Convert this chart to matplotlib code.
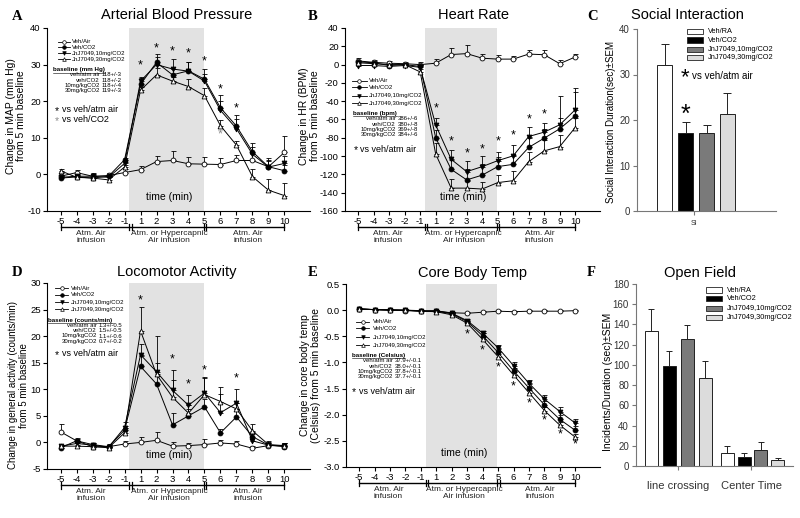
import matplotlib
matplotlib.use("Agg")
import matplotlib.pyplot as plt
import numpy as np
from matplotlib.lines import Line2D
from matplotlib.patches import Rectangle
from matplotlib.ticker import FormatStrFormatter

W, H = 800, 518

TIME_LABELS = ["-5", "-4", "-3", "-2", "-1", "1", "2", "3", "4", "5", "6", "7", "8", "9", "10"]
SERIES = ["Veh/Air", "Veh/CO2", "JnJ7049,10mg/CO2", "JnJ7049,30mg/CO2"]
BAR_SERIES = ["Veh/RA", "Veh/CO2", "JnJ7049,10mg/CO2", "JnJ7049,30mg/CO2"]
BASE_NAMES = ["veh/atm air", "veh/CO2", "10mg/kgCO2", "30mg/kgCO2"]

# A - arterial blood pressure (mm Hg change)
map_mean = [
    [-0.5, 0.5, -0.5, -0.3, 0.5, 1.3, 3.5, 3.8, 2.9, 2.8, 2.7, 3.8, 3.8, 2.1, 6.0],
    [-1.0, -0.7, -1.0, -0.5, 4.0, 24.6, 30.6, 27.2, 28.3, 26.0, 18.2, 13.2, 6.2, 2.1, 1.0],
    [-0.8, -0.5, -0.5, -0.8, 3.0, 25.5, 30.0, 28.8, 28.2, 25.5, 17.5, 12.5, 5.5, 2.0, 3.0],
    [1.0, -0.8, -1.0, -1.5, 2.0, 23.0, 27.2, 25.5, 24.0, 21.5, 13.3, 8.0, -0.6, -4.3, -5.8],
]
map_sem = [
    [1.0, 0.8, 0.8, 0.8, 1.0, 1.0, 1.5, 2.5, 1.8, 2.0, 1.8, 1.5, 2.0, 2.5, 4.5],
    [0.5, 0.5, 0.8, 0.8, 0.5, 1.8, 2.3, 1.5, 2.5, 2.7, 3.5, 3.0, 2.5, 1.5, 1.5],
    [0.5, 0.5, 0.5, 0.5, 0.5, 1.0, 2.0, 2.8, 2.5, 2.0, 2.5, 2.5, 2.0, 2.0, 2.0],
    [0.5, 0.5, 0.5, 0.8, 0.5, 0.8, 2.0, 1.0, 2.0, 2.0, 1.5, 1.0, 2.0, 3.0, 3.5],
]
map_star_x = [5, 6, 7, 8, 9, 10, 11]
map_star_y = [29.9, 34.5, 33.6, 33.0, 31.0, 23.3, 18.0]
map_star2_x = [10]
map_star2_y = [10.8]
map_baseline = ["118+/-3", "118+/-2", "118+/-4", "119+/-3"]

# B - heart rate (BPM change)
hr_mean = [
    [4.0, 2.5, 1.5, 1.0, 0.0, 1.5, 11.0, 12.0, 7.0, 6.0, 6.0, 11.5, 10.8, 1.0, 8.3],
    [3.0, 2.0, -1.0, 0.0, -2.0, -80.0, -114.5, -126.0, -120.8, -111.5, -109.0, -90.5, -80.4, -70.2, -56.0],
    [-1.0, -1.0, -2.0, -1.0, -3.0, -66.0, -103.5, -117.0, -111.5, -105.0, -99.7, -78.6, -73.8, -65.8, -49.4],
    [2.0, 1.0, 0.0, 0.0, -8.0, -97.7, -135.0, -135.0, -136.0, -129.0, -126.8, -106.0, -94.3, -89.6, -68.8],
]
hr_sem = [
    [3, 2, 2, 2, 3, 5, 7, 9, 5, 5, 3, 4, 5, 4, 3],
    [2, 2, 2, 2, 3, 8, 10, 12, 12, 10, 10, 10, 10, 12, 26],
    [2, 2, 2, 2, 3, 8, 10, 12, 12, 10, 12, 10, 10, 31, 24],
    [2, 2, 2, 2, 3, 12, 10, 8, 8, 8, 10, 10, 12, 13, 10],
]
hr_star_x = [5, 6, 7, 8, 9, 10, 11, 12]
hr_star_y = [-48, -84, -97.5, -92.5, -84, -77, -60, -55]
hr_baseline = ["386+/-6", "380+/-8", "369+/-8", "384+/-6"]

# C - social interaction
si_mean = [32.1, 17.2, 17.1, 21.4]
si_sem = [4.6, 2.3, 1.8, 4.5]

# D - locomotor activity (counts/min change)
loco_mean = [
    [2.0, 0.3, -0.8, -0.8, -0.3, 0.0, 0.4, -0.7, -0.6, -0.4, -0.1, -0.3, -1.1, -0.6, -0.6],
    [-1.0, 0.3, -0.4, -0.8, 2.3, 14.3, 11.0, 3.3, 5.0, 6.7, 1.8, 4.8, 1.1, -0.5, -0.8],
    [-0.7, -0.2, -0.5, -0.9, 2.8, 16.5, 13.3, 9.8, 7.0, 9.3, 5.6, 7.4, 0.3, -0.5, -0.7],
    [-0.7, -0.7, -0.8, -1.0, 1.8, 21.0, 12.8, 8.5, 5.5, 9.0, 7.7, 6.3, 2.2, -0.4, -0.6],
]
loco_sem = [
    [1.4, 0.5, 0.5, 0.5, 0.5, 1.0, 1.5, 0.7, 0.5, 1.0, 0.5, 0.5, 0.5, 0.5, 0.5],
    [0.3, 0.3, 0.3, 0.3, 0.8, 2.0, 1.5, 2.3, 1.2, 1.5, 0.8, 1.5, 0.8, 0.3, 0.3],
    [0.3, 0.3, 0.3, 0.5, 1.0, 2.0, 6.8, 3.8, 2.0, 3.0, 3.5, 2.7, 1.2, 0.8, 0.5],
    [0.3, 0.3, 0.3, 0.3, 1.0, 4.4, 2.2, 3.2, 1.5, 3.2, 2.7, 1.2, 1.2, 0.5, 0.5],
]
loco_star_x = [5, 7, 8, 9, 11]
loco_star_y = [26.8, 15.7, 11.0, 13.5, 12.0]
loco_baseline = ["1.3+/-0.5", "1.5+/-0.5", "1.1+/-0.6", "0.7+/-0.2"]

# E - core body temperature (Celsius change)
temp_mean = [
    [0.02, 0.01, 0.00, -0.01, -0.02, -0.02, -0.05, -0.06, -0.04, -0.02, -0.03, -0.02, -0.02, -0.02, -0.01],
    [0.02, 0.01, 0.00, 0.00, -0.02, -0.02, -0.07, -0.22, -0.49, -0.81, -1.16, -1.49, -1.81, -2.09, -2.30],
    [0.02, 0.01, 0.00, 0.00, -0.01, -0.01, -0.06, -0.20, -0.44, -0.72, -1.06, -1.40, -1.70, -1.94, -2.16],
    [0.03, 0.01, 0.01, 0.00, -0.02, -0.03, -0.09, -0.25, -0.56, -0.89, -1.24, -1.58, -1.92, -2.20, -2.43],
]
temp_sem = [
    [0.02] * 15,
    [0.02, 0.02, 0.02, 0.02, 0.02, 0.02, 0.03, 0.04, 0.05, 0.06, 0.06, 0.07, 0.07, 0.08, 0.08],
    [0.02, 0.02, 0.02, 0.02, 0.02, 0.02, 0.03, 0.04, 0.05, 0.06, 0.07, 0.07, 0.08, 0.08, 0.08],
    [0.02, 0.02, 0.02, 0.02, 0.02, 0.02, 0.03, 0.04, 0.05, 0.05, 0.06, 0.06, 0.07, 0.07, 0.07],
]
temp_star_x = [7, 8, 9, 10, 11, 12, 13, 14]
temp_star_y = [-0.46, -0.78, -1.09, -1.45, -1.78, -2.10, -2.37, -2.57]
temp_baseline = ["37.9+/-0.1", "38.0+/-0.1", "37.8+/-0.1", "37.7+/-0.1"]

# F - open field
of_groups = ["line crossing", "Center Time"]
of_mean = [[134, 98.5, 126, 87], [13, 9, 15.5, 5.5]]
of_sem = [[21, 15.5, 13, 16.5], [6.5, 4, 8.5, 2.5]]

plt.rcParams.update({
    "font.family": ["Liberation Sans", "DejaVu Sans"],
    "axes.unicode_minus": False,
    "axes.linewidth": 0.8,
    "xtick.major.size": 3, "ytick.major.size": 3,
    "xtick.major.width": 0.8, "ytick.major.width": 0.8,
})

STYLES = [
    dict(marker="o", mfc="white"),
    dict(marker="o", mfc="black"),
    dict(marker="v", mfc="black"),
    dict(marker="^", mfc="white"),
]
BAR_COLORS = ["white", "black", "#7a7a7a", "#dcdcdc"]

fig = plt.figure(figsize=(W / 100, H / 100), dpi=100)


def px_axes(left, top, right, bottom):
    return fig.add_axes([left / W, 1 - bottom / H, (right - left) / W, (bottom - top) / H])


def ftext(px, py, s, **kw):
    return fig.text(px / W, 1 - py / H, s, **kw)


def fline(xs, ys, **kw):
    fig.add_artist(Line2D([x / W for x in xs], [1 - y / H for y in ys],
                          transform=fig.transFigure, **kw))


def time_panel(ax, means, sems, ylim, yticks, ylabel, label_x, label_y, tfont):
    x = np.arange(len(TIME_LABELS))
    ax.axvspan(4.3, 8.95, color="#e2e2e2", lw=0, zorder=0)
    for m, s, st in zip(means, sems, STYLES):
        ax.errorbar(x, m, yerr=[np.zeros(len(s)), s], color="black", lw=0.7,
                    marker=st["marker"], ms=3.5, mfc=st["mfc"], mec="black", mew=0.6,
                    capsize=1.8, elinewidth=0.6, capthick=0.6, zorder=3)
    ax.set_xlim(-0.85, 15.6)
    ax.set_ylim(*ylim)
    ax.set_yticks(yticks)
    ax.set_xticks(x)
    ax.set_xticklabels(TIME_LABELS)
    ax.tick_params(labelsize=6.8, pad=1.5, direction="out")
    for sp in ("top", "right"):
        ax.spines[sp].set_visible(False)
    ax.set_ylabel(ylabel, fontsize=tfont, linespacing=1.05)
    ax.yaxis.set_label_coords(label_x, label_y)
    ax.text(6.8, 0.075, "time (min)", transform=ax.get_xaxis_transform(),
            ha="center", va="center", fontsize=7.5)
    # infusion bar below axis
    tr = ax.get_xaxis_transform()
    yb = -0.088
    ax.plot([0, 14], [yb, yb], transform=tr, color="black", lw=1.0, clip_on=False)
    for xv in [0, 4.3, 4.45, 8.95, 9.1, 14]:
        ax.plot([xv, xv], [yb - 0.017, yb + 0.017], transform=tr, color="black",
                lw=0.9, clip_on=False)
    for xc, s in [(1.9, "Atm. Air\ninfusion"), (6.8, "Atm. or Hypercapnic\nAir infusion"),
                  (11.7, "Atm. Air\ninfusion")]:
        ax.text(xc, yb - 0.015, s, transform=tr, ha="center", va="top", fontsize=6,
                linespacing=1.05, color="#222222")


def stars(ax, xs, ys, color="black"):
    for xv, yv in zip(xs, ys):
        ax.text(xv, yv, "*", ha="center", va="center", fontsize=9, color=color, zorder=4)


def mini_legend(x0, x1, xt, rows_y):
    for st, lab, yy in zip(STYLES, SERIES, rows_y):
        fline([x0, x1], [yy, yy], color="black", lw=0.6)
        fline([(x0 + x1) / 2], [yy], marker=st["marker"], ms=2.6, mfc=st["mfc"],
              mec="black", mew=0.5, lw=0)
        ftext(xt, yy, lab, fontsize=4.3, va="center", ha="left")


def baseline_block(xt, yt, title, xr, rows_y, values):
    t = ftext(xt, yt, title, fontsize=4.5, va="center", ha="left", fontweight="bold")
    underlines.append((t, yt))
    for name, val, yy in zip(BASE_NAMES, values, rows_y):
        ftext(xr, yy, name, fontsize=4.3, va="center", ha="right")
        ftext(xr + 1.6, yy, val, fontsize=4.3, va="center", ha="left")


def star_note(px, py, label, color="black"):
    ftext(px, py + 1.5, "*", fontsize=7.5, va="center", ha="left", color=color)
    ftext(px + 7, py, label, fontsize=6.5, va="center", ha="left")


underlines = []

# ---- A
axA = px_axes(47, 28, 310, 211)
time_panel(axA, map_mean, map_sem, (-10, 40), np.arange(-10, 41, 10),
           "Change in MAP (mm Hg)\nfrom 5 min baseline", -0.08, 0.52, 7.5)
stars(axA, map_star_x, map_star_y)
stars(axA, map_star2_x, map_star2_y, color="#8a8a8a")
mini_legend(58, 70, 71.7, [41.7, 47.3, 53.3, 59.3])
baseline_block(53.3, 70, "baseline (mm Hg)", 100, [75, 80, 85.3, 90.3], map_baseline)
star_note(55, 110, "vs veh/atm air")
star_note(55, 119.3, "vs veh/CO2", color="#8a8a8a")

# ---- B
axB = px_axes(345, 28, 600, 211)
time_panel(axB, hr_mean, hr_sem, (-160, 40), np.arange(-160, 41, 20),
           "Change in HR (BPM)\nfrom 5 min baseline", -0.1, 0.52, 7.5)
stars(axB, hr_star_x, hr_star_y)
mini_legend(351.7, 366.7, 369, [81, 87.3, 95.7, 103.3])
baseline_block(353.3, 113.3, "baseline (bpm)", 396, [119, 124, 129.3, 134.3], hr_baseline)
star_note(353.3, 149, "vs veh/atm air")

# ---- C
axC = px_axes(637, 29, 776, 211)
xc = np.arange(4)
axC.bar(xc, si_mean, width=0.72, color=BAR_COLORS, edgecolor="#222222", lw=0.7, zorder=2)
axC.errorbar(xc, si_mean, yerr=[np.zeros(4), si_sem], fmt="none", ecolor="#222222",
             elinewidth=0.7, capsize=3, capthick=0.7, zorder=3)
axC.set_xlim(-1.31, 5.31)
axC.set_ylim(0, 40)
axC.set_yticks(np.arange(0, 41, 10))
axC.set_xticks([1.4])
axC.set_xticklabels(["SI"], fontsize=5)
axC.tick_params(axis="y", labelsize=7, pad=2)
for sp in ("top", "right"):
    axC.spines[sp].set_visible(False)
for sp in ("left", "bottom"):
    axC.spines[sp].set_color("#777777")
axC.tick_params(colors="#777777", labelcolor="#333333")
axC.set_ylabel("Social Interaction Duration(sec)\u00b1SEM", fontsize=7)
axC.yaxis.set_label_coords(-0.15, 0.49)
axC.text(1, si_mean[1] + si_sem[1] + 1.7, "*", ha="center", va="center", fontsize=18)
for col, lab, yy in zip(BAR_COLORS, BAR_SERIES, [31.7, 40, 49.3, 57.7]):
    fig.add_artist(Rectangle((686.7 / W, 1 - (yy + 2.6) / H), 16.6 / W, 5.2 / H,
                             transform=fig.transFigure, facecolor=col,
                             edgecolor="#222222", lw=0.6))
    ftext(707.7, yy, lab, fontsize=5.3, va="center", ha="left")
ftext(685, 78, "*", fontsize=16, va="center", ha="center")
ftext(691.7, 76, "vs veh/atm air", fontsize=7, va="center", ha="left")

# ---- D
axD = px_axes(47, 283, 310, 469)
time_panel(axD, loco_mean, loco_sem, (-5, 30), np.arange(-5, 31, 5),
           "Change in general activity (counts/min)\nfrom 5 min baseline", -0.07, 0.45, 7)
stars(axD, loco_star_x, loco_star_y)
mini_legend(55, 68.3, 70.7, [288.3, 295, 302.3, 309.3])
baseline_block(48.3, 320.7, "baseline (counts/min)", 96.7, [325.7, 331, 336, 341.3], loco_baseline)
star_note(55, 354, "vs veh/atm air")

# ---- E
axE = px_axes(346, 284, 600, 467)
time_panel(axE, temp_mean, temp_sem, (-3.0, 0.5), np.arange(-3.0, 0.51, 0.5),
           "Change in core body temp\n(Celsius) from 5 min baseline", -0.1, 0.5, 7.5)
axE.yaxis.set_major_formatter(FormatStrFormatter("%.1f"))
stars(axE, temp_star_x, temp_star_y)
mini_legend(356, 369.3, 372.7, [321.7, 328.3, 337.3, 345])
baseline_block(351.7, 355, "baseline (Celsius)", 392.7, [361, 366, 371.7, 376.7], temp_baseline)
star_note(351.7, 391, "vs veh/atm air")

# ---- F
axF = px_axes(636, 284, 793, 466)
xf = [np.arange(4), 4.2 + np.arange(4) * 0.94]
for pos, m, s in zip(xf, of_mean, of_sem):
    axF.bar(pos, m, width=0.72, color=BAR_COLORS, edgecolor="#222222", lw=0.7, zorder=2)
    axF.errorbar(pos, m, yerr=[np.zeros(4), s], fmt="none", ecolor="#222222",
                 elinewidth=0.7, capsize=2.5, capthick=0.7, zorder=3)
axF.set_xlim(-0.86, 7.86)
axF.set_ylim(0, 180)
axF.set_yticks(np.arange(0, 181, 20))
axF.set_xticks([1.5, 5.55])
axF.set_xticklabels(of_groups, fontsize=8)
axF.tick_params(axis="x", pad=8)
axF.tick_params(axis="y", labelsize=7, pad=2)
for sp in ("top", "right"):
    axF.spines[sp].set_visible(False)
for sp in ("left", "bottom"):
    axF.spines[sp].set_color("#777777")
axF.tick_params(colors="#777777", labelcolor="#333333")
axF.set_ylabel("Incidents/Duration (sec)\u00b1SEM", fontsize=7.5)
axF.yaxis.set_label_coords(-0.145, 0.46)
for col, lab, yy in zip(BAR_COLORS, BAR_SERIES, [290, 298.3, 308.3, 317.3]):
    fig.add_artist(Rectangle((705.7 / W, 1 - (yy + 2.6) / H), 16.6 / W, 5.2 / H,
                             transform=fig.transFigure, facecolor=col,
                             edgecolor="#222222", lw=0.6))
    ftext(726.7, yy, lab, fontsize=5.3, va="center", ha="left")

# ---- titles and panel letters
for (cx, cy, s) in [(177, 15, "Arterial Blood Pressure"), (474, 15, "Heart Rate"),
                    (687, 15, "Social Interaction"), (177, 272, "Locomotor Activity"),
                    (472, 273, "Core Body Temp"), (700, 273, "Open Field")]:
    ftext(cx, cy, s, fontsize=10.5, ha="center", va="center")
for (cx, cy, s) in [(17, 16, "A"), (313, 16, "B"), (593, 16, "C"),
                    (17, 272, "D"), (313, 273, "E"), (591, 273, "F")]:
    ftext(cx, cy, s, fontsize=10.5, ha="center", va="center", fontweight="bold",
          family=["Liberation Serif", "DejaVu Serif"])

# underline the baseline headings
fig.canvas.draw()
r = fig.canvas.get_renderer()
for t, yt in underlines:
    bb = t.get_window_extent(r)
    fline([bb.x0, bb.x1], [yt + 2.6, yt + 2.6], color="black", lw=0.4)

fig.savefig("out.png", dpi=100)
